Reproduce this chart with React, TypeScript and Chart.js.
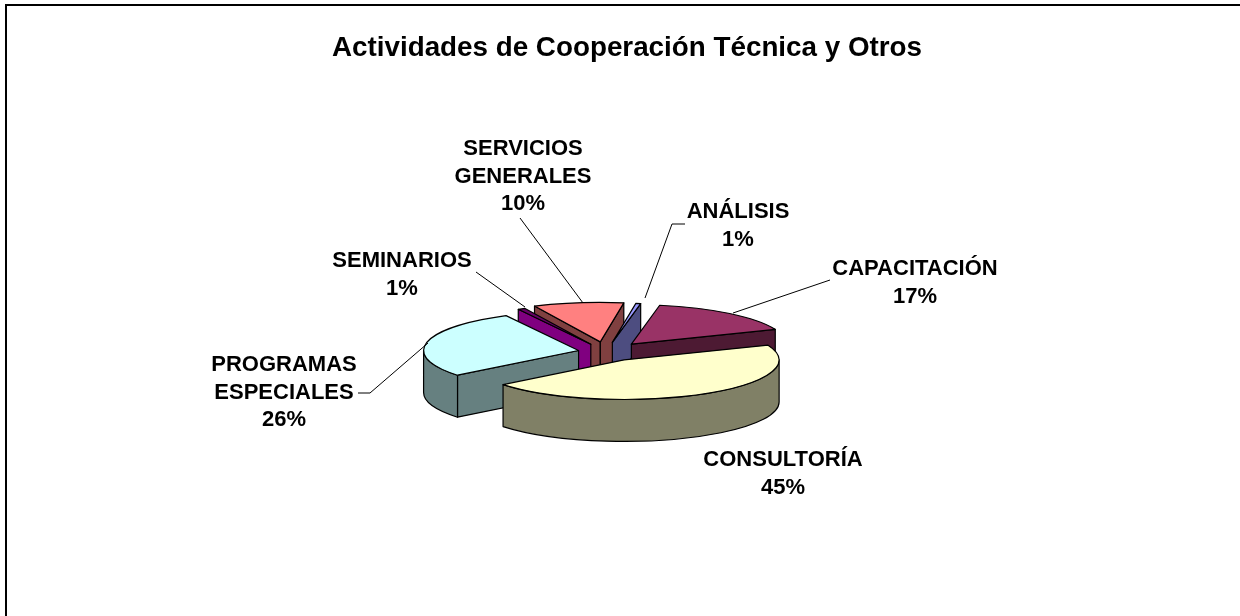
import React, { useEffect, useRef } from "react";
import { Chart, registerables } from "chart.js";

Chart.register(...registerables);

const chartTitle = "Actividades de Cooperación Técnica y Otros";
const categories = ["ANÁLISIS", "CAPACITACIÓN", "CONSULTORÍA", "PROGRAMAS ESPECIALES", "SEMINARIOS", "SERVICIOS GENERALES"];
const shares = [0.6, 16.6, 45.4, 26.3, 0.7, 10.4];
const topColors = ["#9999FF", "#993366", "#FFFFCC", "#CCFFFF", "#660066", "#FF8080"];
const sideColors = ["#4D4D80", "#4D1A33", "#808066", "#668080", "#800080", "#804040"];
const explode = [38, 40, 36, 28, 34, 40];

const FONT = '"Liberation Sans", Arial, sans-serif';
const TILT = 0.255;
const DEPTH = 42;
const SHIFT_X = -21;
const WARP = (8 * Math.PI) / 180;

const labelLayout = [
  { x: 738, y: 212, lines: ["ANÁLISIS"] },
  { x: 915, y: 269, lines: ["CAPACITACIÓN"] },
  { x: 783, y: 460, lines: ["CONSULTORÍA"] },
  { x: 284, y: 365, lines: ["PROGRAMAS", "ESPECIALES"] },
  { x: 402, y: 261, lines: ["SEMINARIOS"] },
  { x: 523, y: 149, lines: ["SERVICIOS", "GENERALES"] },
];
const leaders: number[][][] = [
  [[685, 224], [672, 224], [645, 298]],
  [[830, 280], [733, 313]],
  [],
  [[358, 393], [370, 393], [428, 343]],
  [[476, 272], [525, 307]],
  [[520, 218], [583, 303]],
];

// Excel's perspective leans the far edge of the pie to the right, more on its left half.
const lean = (a: number) => {
  const far = Math.min(1, Math.max(0, (-Math.sin(a) - 0.3) / 0.7));
  const side = Math.max(0.3, Math.min(1, 1 - ((Math.cos(a) + 0.34) / 0.44) * 0.65));
  return a + WARP * far * side;
};

const geometry = (chart: any) =>
  chart.getDatasetMeta(0).data.map((arc: any, i: number) => {
    const a0 = lean(arc.startAngle);
    const a1 = lean(arc.endAngle);
    const mid = (a0 + a1) / 2;
    return {
      i,
      a0,
      a1,
      r: arc.outerRadius,
      fill: arc.options.backgroundColor,
      cx: arc.x + SHIFT_X + Math.cos(mid) * explode[i],
      cy: arc.y + Math.sin(mid) * explode[i] * TILT,
    };
  });

const project3d = {
  id: "project3d",
  beforeDatasetDraw(chart: any) {
    const ctx = chart.ctx;
    const geo = geometry(chart);
    const order = [...geo].sort((p: any, q: any) => p.cy - q.cy);
    ctx.save();
    ctx.lineWidth = 1.2;
    ctx.strokeStyle = "#000";
    ctx.lineJoin = "round";
    for (const g of order) {
      ctx.fillStyle = sideColors[g.i];
      const wall = (a: number) => {
        const ex = g.cx + Math.cos(a) * g.r;
        const ey = g.cy + Math.sin(a) * g.r * TILT;
        ctx.beginPath();
        ctx.moveTo(g.cx, g.cy);
        ctx.lineTo(ex, ey);
        ctx.lineTo(ex, ey + DEPTH);
        ctx.lineTo(g.cx, g.cy + DEPTH);
        ctx.closePath();
        ctx.fill();
        ctx.stroke();
      };
      if (Math.cos(g.a0) < 0) wall(g.a0);
      if (Math.cos(g.a1) > 0) wall(g.a1);
      for (let n = -1; n <= 2; n++) {
        const lo = Math.max(g.a0, 2 * Math.PI * n);
        const hi = Math.min(g.a1, 2 * Math.PI * n + Math.PI);
        if (hi > lo) {
          ctx.beginPath();
          ctx.ellipse(g.cx, g.cy, g.r, g.r * TILT, 0, lo, hi);
          ctx.ellipse(g.cx, g.cy + DEPTH, g.r, g.r * TILT, 0, hi, lo, true);
          ctx.closePath();
          ctx.fill();
          ctx.stroke();
        }
      }
    }
    for (const g of geo) {
      ctx.fillStyle = g.fill;
      ctx.beginPath();
      ctx.moveTo(g.cx, g.cy);
      ctx.ellipse(g.cx, g.cy, g.r, g.r * TILT, 0, g.a0, g.a1);
      ctx.closePath();
      ctx.fill();
      ctx.stroke();
    }
    ctx.restore();
    return false;
  },
  afterDraw(chart: any) {
    const ctx = chart.ctx;
    ctx.save();
    ctx.strokeStyle = "#000";
    ctx.lineWidth = 2;
    ctx.beginPath();
    ctx.moveTo(6, 616);
    ctx.lineTo(6, 5);
    ctx.lineTo(1240, 5);
    ctx.stroke();
    ctx.lineWidth = 1;
    for (const pts of leaders) {
      if (!pts.length) continue;
      ctx.beginPath();
      pts.forEach((p, i) => (i ? ctx.lineTo(p[0], p[1]) : ctx.moveTo(p[0], p[1])));
      ctx.stroke();
    }
    ctx.fillStyle = "#000";
    ctx.font = `bold 22px ${FONT}`;
    ctx.textAlign = "center";
    ctx.textBaseline = "middle";
    labelLayout.forEach((l, i) => {
      [...l.lines, `${Math.round(shares[i])}%`].forEach((t, j) => ctx.fillText(t, l.x, l.y + j * 27.7));
    });
    ctx.restore();
  },
};

export default function App() {
  const ref = useRef<HTMLCanvasElement>(null);
  useEffect(() => {
    document.body.style.margin = "0";
    const chart = new Chart(ref.current!, {
      type: "pie",
      data: {
        labels: categories,
        datasets: [{ data: shares, backgroundColor: topColors, borderWidth: 0 } as any],
      },
      options: {
        responsive: false,
        animation: false,
        events: [],
        rotation: 6,
        radius: 155,
        layout: { padding: { left: 14, right: 0, top: 0, bottom: 0 } },
        plugins: {
          legend: { display: false },
          tooltip: { enabled: false },
          title: {
            display: true,
            text: chartTitle,
            color: "#000",
            font: { family: FONT, size: 27.8, weight: "bold" },
            padding: { top: 32, bottom: 22.6 },
          },
        },
      } as any,
      plugins: [project3d],
    });
    return () => chart.destroy();
  }, []);
  return <canvas ref={ref} width={1240} height={616} style={{ display: "block", background: "#fff" }} />;
}
